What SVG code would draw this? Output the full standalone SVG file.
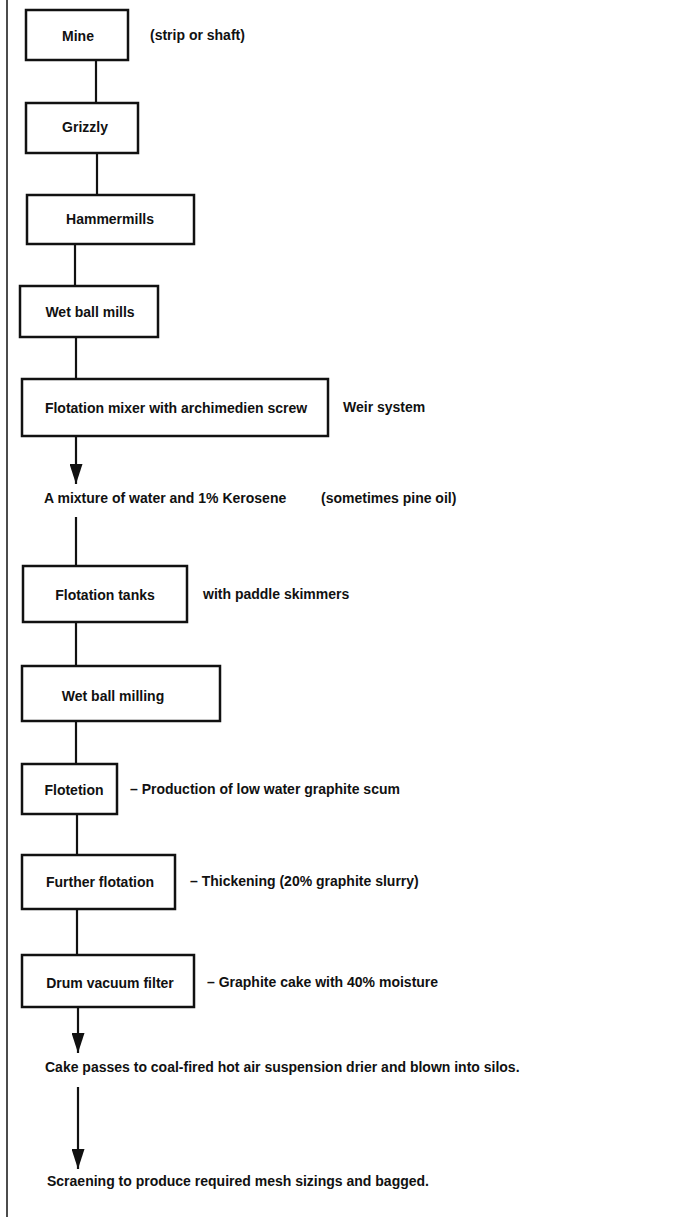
<svg xmlns="http://www.w3.org/2000/svg" width="677" height="1217" viewBox="0 0 677 1217">
<defs>
<style>
.box{fill:#fff;stroke:#111;stroke-width:2.5}
.ln{stroke:#111;stroke-width:2.2;fill:none}
text{font-family:"Liberation Sans",Arial,sans-serif;font-weight:bold;font-size:14px;fill:#111;dominant-baseline:central}
.c{text-anchor:middle}
</style>
<marker id="ah" markerWidth="20" markerHeight="13" refX="20" refY="6.5" orient="auto" markerUnits="userSpaceOnUse" viewBox="0 0 20 13">
<path d="M0,0 L20,6.5 L0,13 z" fill="#111"/>
</marker>
</defs>
<rect width="677" height="1217" fill="#fff"/>
<line x1="7" y1="0" x2="7" y2="1217" stroke="#111" stroke-width="1.5"/>
<g id="connectors">
<line class="ln" x1="96" y1="60" x2="96" y2="103"/>
<line class="ln" x1="97" y1="153" x2="97" y2="195"/>
<line class="ln" x1="75" y1="244" x2="75" y2="286"/>
<line class="ln" x1="76" y1="337" x2="76" y2="379"/>
<line class="ln" x1="76" y1="436" x2="76" y2="484" marker-end="url(#ah)"/>
<line class="ln" x1="76" y1="517" x2="76" y2="566"/>
<line class="ln" x1="76" y1="622" x2="76" y2="666"/>
<line class="ln" x1="76" y1="721" x2="76" y2="764"/>
<line class="ln" x1="77" y1="814" x2="77" y2="855"/>
<line class="ln" x1="77" y1="909" x2="77" y2="955"/>
<line class="ln" x1="78" y1="1007" x2="78" y2="1053" marker-end="url(#ah)"/>
<line class="ln" x1="78" y1="1087" x2="78" y2="1169" marker-end="url(#ah)"/>
</g>
<g id="mine"><rect class="box" x="26" y="10" width="102" height="50"/><text class="c" x="78" y="36">Mine</text><text x="150" y="35">(strip or shaft)</text></g>
<g id="grizzly"><rect class="box" x="26" y="103" width="112" height="50"/><text class="c" x="85" y="127">Grizzly</text></g>
<g id="hammermills"><rect class="box" x="27" y="195" width="167" height="49"/><text class="c" x="110" y="219">Hammermills</text></g>
<g id="wetballmills"><rect class="box" x="20" y="286" width="138" height="51"/><text class="c" x="90" y="312">Wet ball mills</text></g>
<g id="flotationmixer"><rect class="box" x="22" y="379" width="306" height="57"/><text class="c" x="176" y="408">Flotation mixer with archimedien screw</text><text x="343" y="407">Weir system</text></g>
<g id="mixture"><text x="44" y="498">A mixture of water and 1% Kerosene</text><text x="321" y="498">(sometimes pine oil)</text></g>
<g id="flotationtanks"><rect class="box" x="23" y="566" width="164" height="56"/><text class="c" x="105" y="595">Flotation tanks</text><text x="203" y="594">with paddle skimmers</text></g>
<g id="wetballmilling"><rect class="box" x="22" y="666" width="198" height="55"/><text class="c" x="113" y="696">Wet ball milling</text></g>
<g id="flotetion"><rect class="box" x="22" y="764" width="95" height="50"/><text class="c" x="74" y="790">Flotetion</text><text x="130" y="789">– Production of low water graphite scum</text></g>
<g id="furtherflotation"><rect class="box" x="22" y="855" width="153" height="54"/><text class="c" x="100" y="882">Further flotation</text><text x="190" y="881">– Thickening (20% graphite slurry)</text></g>
<g id="drumfilter"><rect class="box" x="22" y="955" width="172" height="52"/><text class="c" x="110" y="983">Drum vacuum filter</text><text x="207" y="982">– Graphite cake with 40% moisture</text></g>
<g id="cake"><text x="45" y="1067">Cake passes to coal-fired hot air suspension drier and blown into silos.</text></g>
<g id="screening"><text x="47" y="1181">Scraening to produce required mesh sizings and bagged.</text></g>
</svg>
